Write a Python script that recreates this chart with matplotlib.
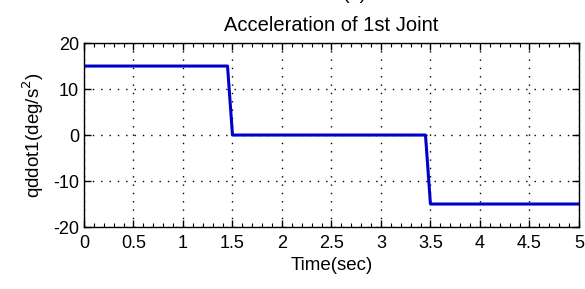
import numpy as np
import matplotlib.pyplot as plt
from matplotlib.ticker import MultipleLocator

plt.rcParams['font.family'] = ['Liberation Sans', 'DejaVu Sans']
plt.rcParams['axes.unicode_minus'] = False

# joint 1 acceleration profile
time_sec = [0, 1.45, 1.5, 3.45, 3.5, 5]
qddot1 = [15, 15, 0, 0, -15, -15]

x_ticks = [0, 0.5, 1, 1.5, 2, 2.5, 3, 3.5, 4, 4.5, 5]
x_labels = ['0', '0.5', '1', '1.5', '2', '2.5', '3', '3.5', '4', '4.5', '5']
y_ticks = [-20, -10, 0, 10, 20]

fig = plt.figure(figsize=(5.85, 2.89), dpi=100)
ax = fig.add_axes([0.1436, 0.2145, 0.846, 0.6365])

ax.plot(time_sec, qddot1, color='#0000c8', linewidth=2.2)

ax.set_xlim(0, 5)
ax.set_ylim(-20, 20)
ax.set_xticks(x_ticks)
ax.set_xticklabels(x_labels)
ax.set_yticks(y_ticks)
ax.xaxis.set_minor_locator(MultipleLocator(0.1))
ax.tick_params(which='both', direction='in', top=True, right=True, labelsize=13)
ax.tick_params(which='major', length=5, width=1)
ax.tick_params(axis='x', which='major', pad=6)
ax.tick_params(which='minor', length=3, width=0.8)
ax.grid(True, which='major', linestyle=(0, (1, 5)), color='black', linewidth=1)
for s in ax.spines.values():
    s.set_linewidth(1)

ax.set_xlabel('Time(sec)', fontsize=13.5, labelpad=3)
ax.set_ylabel('qddot1(deg/s$^2$)', fontsize=13.5, labelpad=5)
ax.set_title('Acceleration of 1st Joint', fontsize=14.5, pad=9)
fig.text(0.607, 1.02, '(a)', ha='center', va='center', fontsize=14)

fig.savefig('out.png', dpi=100)
